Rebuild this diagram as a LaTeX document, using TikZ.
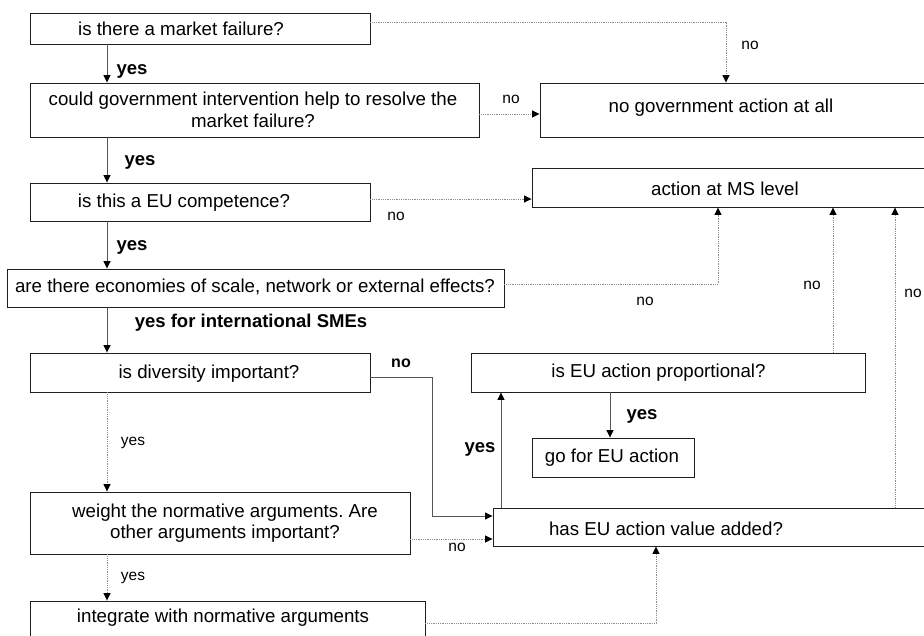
\documentclass[tikz,border=0pt]{standalone}
\usepackage{fontspec}
\setmainfont{Liberation Sans}
\usetikzlibrary{arrows.meta}
\frenchspacing
\definecolor{boxline}{HTML}{1E1E1E}
\definecolor{conn}{HTML}{555555}
\definecolor{dots}{HTML}{8C8C8C}
\tikzset{
  box/.style={draw=boxline, line width=0.9pt, rectangle, inner sep=0pt},
  btxt/.style={inner sep=0pt, font=\fontsize{18.7}{21.5}\selectfont, align=center},
  lab/.style={inner sep=0pt, font=\fontsize{15.5}{18}\selectfont},
  blab/.style={inner sep=0pt, font=\fontsize{18.5}{21}\selectfont\bfseries},
  tip/.style={-{Triangle[length=7.5pt,width=7pt,color=black]}},
  solidarrow/.style={draw=conn, line width=0.9pt, tip},
  dotarrow/.style={draw=dots, line width=0.9pt, dash pattern=on 1pt off 0.8pt, tip},
}
\begin{document}
\begin{tikzpicture}[x=1pt,y=-1pt]
\useasboundingbox (0,0) rectangle (924,635);
\clip (0,0) rectangle (924,635);
\fill[white] (0,0) rectangle (924,635);
% boxes
\node[box, minimum width=340, minimum height=31] (b1) at (200,28.5) {};
\node[box, minimum width=449, minimum height=54] (b2) at (254.5,110) {};
\node[box, minimum width=390, minimum height=54] (b3) at (735,110) {};
\node[box, minimum width=340, minimum height=38] (b4) at (200,202) {};
\node[box, minimum width=398, minimum height=39] (b5) at (731,187.5) {};
\node[box, minimum width=497, minimum height=38] (b6) at (255.5,288) {};
\node[box, minimum width=340, minimum height=39] (b7) at (200,372.5) {};
\node[box, minimum width=394, minimum height=39] (b8) at (668,372.5) {};
\node[box, minimum width=162, minimum height=39] (b9) at (613,457.5) {};
\node[box, minimum width=437, minimum height=38] (b10) at (711.5,527) {};
\node[box, minimum width=380, minimum height=62] (b11) at (220,523) {};
\node[box, minimum width=395, minimum height=44] (b12) at (227.5,623) {};
% box texts
\node[btxt] (t1) at (181,28.5) {is there a market failure?};
\node[btxt] (t2) at (253,110) {could government intervention help to resolve the\\market failure?};
\node[btxt] (t3) at (721,108) {no government action at all};
\node[btxt] (t4) at (184,203) {is this a EU competence?};
\node[btxt] (t5) at (725,189) {action at MS level};
\node[btxt] (t6) at (255,287) {are there economies of scale, network or external effects?};
\node[btxt] (t7) at (209,374) {is diversity important?};
\node[btxt] (t8) at (658.5,373) {is EU action proportional?};
\node[btxt] (t9) at (612,458) {go for EU action};
\node[btxt] (t10) at (666,529) {has EU action value added?};
\node[btxt] (t11) at (225,523) {weight the normative arguments. Are\\other arguments important?};
\node[btxt] (t12) at (223,618) {integrate with normative arguments};
% helper coordinates
\coordinate (x107) at (107,0);
\coordinate (x726) at (726,0);
\coordinate (x718) at (718,0);
\coordinate (x833) at (833,0);
\coordinate (x895) at (895,0);
\coordinate (x432) at (432,0);
\coordinate (x501) at (501,0);
\coordinate (x610) at (610,0);
\coordinate (x656) at (656,0);
\coordinate (y22) at (0,22);
\coordinate (y114) at (0,114);
\coordinate (y199) at (0,199);
\coordinate (y284) at (0,284);
\coordinate (y377) at (0,377);
\coordinate (y516) at (0,516);
\coordinate (y539) at (0,539);
\coordinate (y623) at (0,623);
% main column
\draw[solidarrow] (b1.south -| x107) -- (b2.north -| x107);
\draw[solidarrow] (b2.south -| x107) -- (b4.north -| x107);
\draw[solidarrow] (b4.south -| x107) -- (b6.north -| x107);
\draw[solidarrow] (b6.south -| x107) -- (b7.north -| x107);
\draw[dotarrow] (b7.south -| x107) -- (b11.north -| x107);
\draw[dotarrow] (b11.south -| x107) -- (b12.north -| x107);
% no branches
\draw[dotarrow] (b1.east |- y22) -- (x726 |- y22) -- (b3.north -| x726);
\draw[dotarrow] (b2.east |- y114) -- (b3.west |- y114);
\draw[dotarrow] (b4.east |- y199) -- (b5.west |- y199);
\draw[dotarrow] (b6.east |- y284) -- (x718 |- y284) -- (b5.south -| x718);
\draw[dotarrow] (b8.north -| x833) -- (b5.south -| x833);
\draw[dotarrow] (b10.north -| x895) -- (b5.south -| x895);
\draw[solidarrow] (b7.east |- y377) -- (x432 |- y377) -- (x432 |- y516) -- (b10.west |- y516);
\draw[dotarrow] (b11.east |- y539) -- (b10.west |- y539);
\draw[dotarrow] (b12.east |- y623) -- (x656 |- y623) -- (b10.south -| x656);
\draw[solidarrow] (b10.north -| x501) -- (b8.south -| x501);
\draw[solidarrow] (b8.south -| x610) -- (b9.north -| x610);
% labels
\node[blab] (l1) at (132,71) {yes};
\node[blab] (l2) at (140,162) {yes};
\node[blab] (l3) at (132,247) {yes};
\node[blab] (l4) at (251,323) {yes for international SMEs};
\node[lab] (l5) at (133,443) {yes};
\node[lab] (l6) at (133,578) {yes};
\node[lab] (l7) at (750,45) {no};
\node[lab] (l8) at (511,99) {no};
\node[lab] (l9) at (396,216) {no};
\node[lab] (l10) at (645,301) {no};
\node[lab] (l11) at (812,285) {no};
\node[lab] (l12) at (913,293) {no};
\node[inner sep=0pt, font=\fontsize{16}{19}\selectfont\bfseries] (l13) at (401,363) {no};
\node[blab] (l14) at (480,449) {yes};
\node[blab] (l15) at (642,416) {yes};
\node[lab] (l16) at (457,547) {no};
\end{tikzpicture}
\end{document}
